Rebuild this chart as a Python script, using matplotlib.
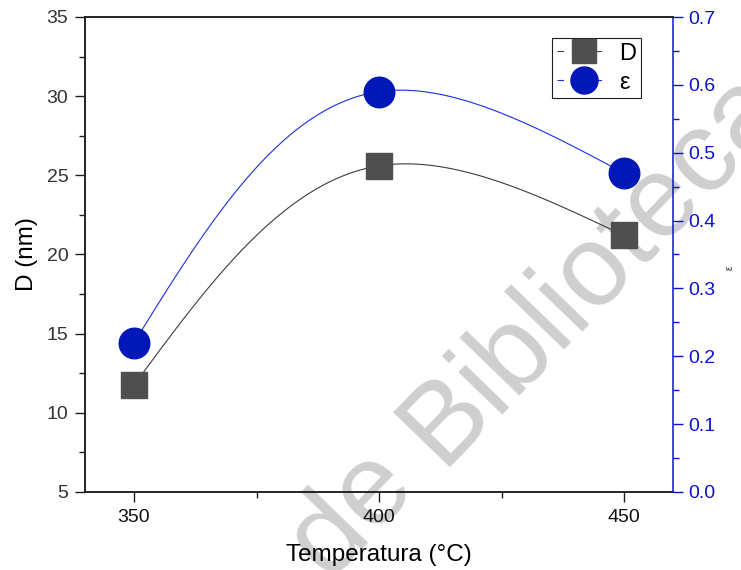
import numpy as np
import matplotlib
matplotlib.use("Agg")
import matplotlib.pyplot as plt
from matplotlib.ticker import MultipleLocator, FormatStrFormatter
from matplotlib.lines import Line2D

plt.rcParams['font.family'] = ['Liberation Sans', 'DejaVu Sans']

temperature = [350, 400, 450]
D_nm = [11.75, 25.6, 21.2]
epsilon = [0.22, 0.59, 0.47]

x_label = "Temperatura (°C)"
y_label = "D (nm)"
y2_label = "ε"
watermark_left = "Copia de "
watermark_right = "Biblioteca"

sq_color = "#4f4f4f"
circ_color = "#0018b8"
blue = "#0a14c8"
dark = "#1e1e1e"

FIG_W, FIG_H = 741, 570
AX_L, AX_B, AX_W, AX_H = 85, 78, 588, 475


def natural_spline_1d(s, v, ss):
    s = np.asarray(s, float)
    v = np.asarray(v, float)
    k = len(s)
    h = np.diff(s)
    A = np.zeros((k, k))
    b = np.zeros(k)
    A[0, 0] = 1
    A[-1, -1] = 1
    for i in range(1, k - 1):
        A[i, i - 1] = h[i - 1]
        A[i, i] = 2 * (h[i - 1] + h[i])
        A[i, i + 1] = h[i]
        b[i] = 6 * ((v[i + 1] - v[i]) / h[i] - (v[i] - v[i - 1]) / h[i - 1])
    M = np.linalg.solve(A, b)
    out = np.empty_like(ss)
    for j, sv in enumerate(ss):
        i = min(max(np.searchsorted(s, sv, side='right') - 1, 0), k - 2)
        t1 = s[i + 1] - sv
        t0 = sv - s[i]
        hi = h[i]
        out[j] = (M[i] * t1 ** 3 / (6 * hi) + M[i + 1] * t0 ** 3 / (6 * hi)
                  + (v[i] / hi - M[i] * hi / 6) * t1 + (v[i + 1] / hi - M[i + 1] * hi / 6) * t0)
    return out


def parametric_spline(axis, xdata, ydata, n=300):
    # spline in screen-proportional space, returned in axes fraction
    xlim = axis.get_xlim()
    ylim = axis.get_ylim()
    px = (np.asarray(xdata, float) - xlim[0]) / (xlim[1] - xlim[0]) * AX_W
    py = (np.asarray(ydata, float) - ylim[0]) / (ylim[1] - ylim[0]) * AX_H
    s = np.concatenate([[0], np.cumsum(np.hypot(np.diff(px), np.diff(py)))])
    ss = np.linspace(0, s[-1], n)
    cx = natural_spline_1d(s, px, ss)
    cy = natural_spline_1d(s, py, ss)
    return cx / AX_W, cy / AX_H


fig = plt.figure(figsize=(FIG_W / 100, FIG_H / 100), dpi=100)

# watermark behind everything
fig.text(440 / FIG_W, 1 - 467 / FIG_H, watermark_right, fontsize=83, rotation=46,
         rotation_mode='anchor', ha='left', va='baseline', color='#cfcfcf', zorder=-5)
fig.text(440 / FIG_W, 1 - 467 / FIG_H, watermark_left, fontsize=83, rotation=46,
         rotation_mode='anchor', ha='right', va='baseline', color='#cfcfcf', zorder=-5)

ax = fig.add_axes([AX_L / FIG_W, AX_B / FIG_H, AX_W / FIG_W, AX_H / FIG_H])
ax2 = ax.twinx()
ax.patch.set_visible(False)
ax2.patch.set_visible(False)

ax.set_xlim(340, 460)
ax.set_ylim(5, 35)
ax2.set_ylim(0, 0.7)

cx, cy = parametric_spline(ax, temperature, D_nm)
ax.plot(cx, cy, color="#3c3c3c", lw=0.8, zorder=2, transform=ax.transAxes)
ax.plot(temperature, D_nm, ls='none', marker='s', ms=18.5, mfc=sq_color, mec=sq_color, zorder=3)

cx2, cy2 = parametric_spline(ax2, temperature, epsilon)
ax2.plot(cx2, cy2, color="#1a2ee0", lw=0.8, zorder=2, transform=ax2.transAxes)
ax2.plot(temperature, epsilon, ls='none', marker='o', ms=22, mfc=circ_color, mec=circ_color, zorder=3)

ax.xaxis.set_major_locator(MultipleLocator(50))
ax.xaxis.set_minor_locator(MultipleLocator(25))
ax.yaxis.set_major_locator(MultipleLocator(5))
ax.yaxis.set_minor_locator(MultipleLocator(2.5))
ax2.yaxis.set_major_locator(MultipleLocator(0.1))
ax2.yaxis.set_minor_locator(MultipleLocator(0.05))
ax2.yaxis.set_major_formatter(FormatStrFormatter('%.1f'))

ax.tick_params(axis='x', which='major', direction='out', length=7, width=1.0,
               labelsize=14, color=dark, labelcolor='#111111', pad=5.5)
ax.tick_params(axis='y', which='major', direction='out', length=7, width=1.0,
               labelsize=14, color=dark, labelcolor='#333333', pad=5)
ax.tick_params(axis='both', which='minor', direction='out', length=4, width=1.0, color=dark)
ax2.tick_params(axis='y', which='major', direction='out', length=7, width=1.0,
                labelsize=14, color=blue, labelcolor=blue, pad=4)
ax2.tick_params(axis='y', which='minor', direction='out', length=4, width=1.0, color=blue)

for s in ['left', 'bottom', 'top']:
    for a in (ax, ax2):
        a.spines[s].set_color(dark)
        a.spines[s].set_linewidth(1.1)
ax2.spines['right'].set_color(blue)
ax2.spines['right'].set_linewidth(1.1)
ax.spines['right'].set_visible(False)

ax.set_xlabel(x_label, fontsize=17.5, labelpad=13)
ax.set_ylabel(y_label, fontsize=17.5, labelpad=6)
fig.text(730 / FIG_W, 1 - 268 / FIG_H, y2_label, fontsize=7, rotation=90,
         ha='center', va='center', color='#222222')

dash = (0, (5.8, 28.5, 5.8, 200))
h1 = Line2D([], [], color="#3c3c3c", lw=0.8, ls=dash, marker='s', ms=17.5,
            mfc=sq_color, mec=sq_color)
h2 = Line2D([], [], color="#1a2ee0", lw=0.8, ls=dash, marker='o', ms=19.5,
            mfc=circ_color, mec=circ_color)
leg = ax2.legend([h1, h2], ["D", "ε"], loc='upper left', bbox_to_anchor=(0.794, 0.956),
                 borderaxespad=0, fontsize=17, handlelength=2.35, handletextpad=0.3,
                 labelspacing=0.3, borderpad=0.2, frameon=True, fancybox=False,
                 edgecolor=dark, framealpha=1)
leg.get_frame().set_linewidth(0.8)

fig.savefig("out.png", dpi=100)
